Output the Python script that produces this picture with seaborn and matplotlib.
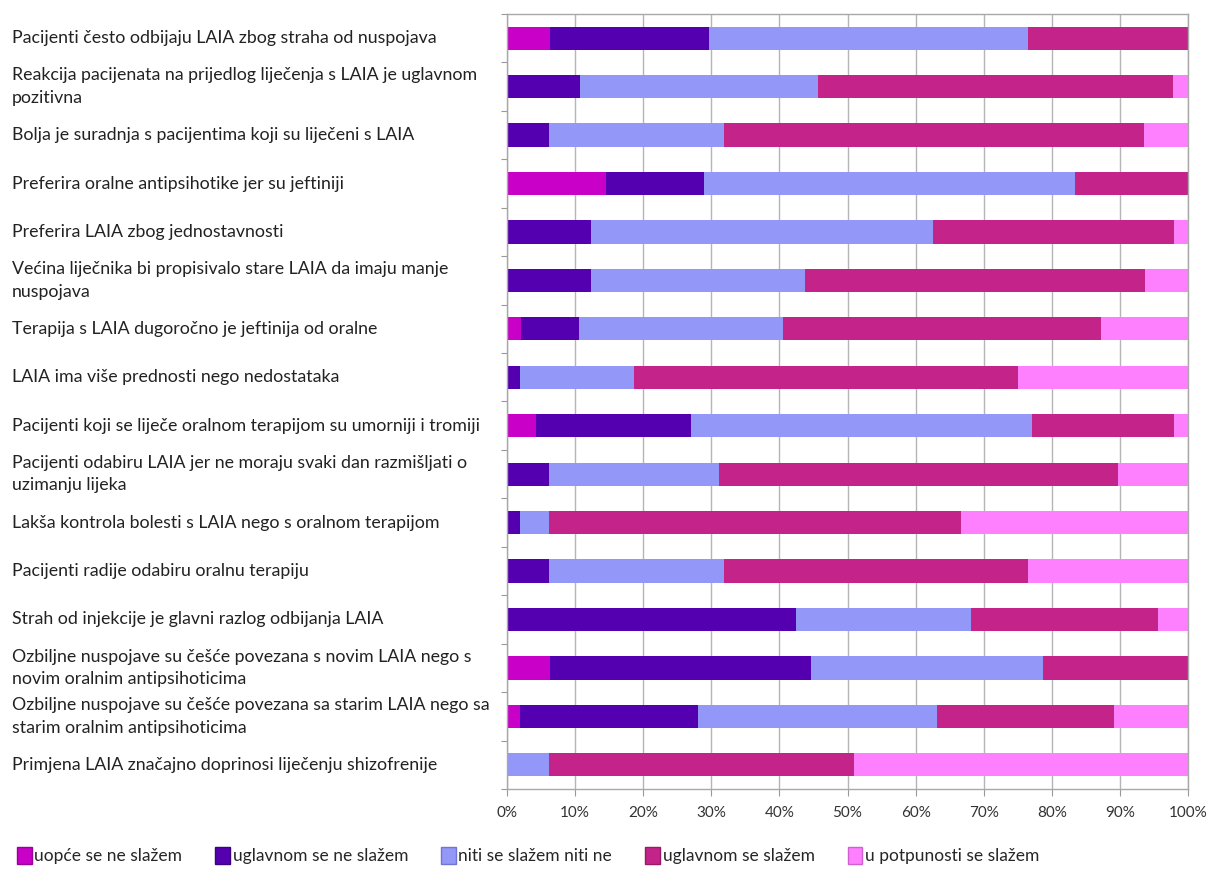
import numpy as np
import pandas as pd
import matplotlib
matplotlib.use("Agg")
import matplotlib.pyplot as plt
import matplotlib.transforms as mtransforms
from matplotlib.patches import Patch
import seaborn as sns

# --- data (percent of answers per statement) ---
statements = [
    "Pacijenti često odbijaju LAIA zbog straha od nuspojava",
    "Reakcija pacijenata na prijedlog liječenja s LAIA je uglavnom\npozitivna",
    "Bolja je suradnja s pacijentima koji su liječeni s LAIA",
    "Preferira oralne antipsihotike jer su jeftiniji",
    "Preferira LAIA zbog jednostavnosti",
    "Većina liječnika bi propisivalo stare LAIA da imaju manje\nnuspojava",
    "Terapija s LAIA dugoročno je jeftinija od oralne",
    "LAIA ima više prednosti nego nedostataka",
    "Pacijenti koji se liječe oralnom terapijom su umorniji i tromiji",
    "Pacijenti odabiru LAIA jer ne moraju svaki dan razmišljati o\nuzimanju lijeka",
    "Lakša kontrola bolesti s LAIA nego s oralnom terapijom",
    "Pacijenti radije odabiru oralnu terapiju",
    "Strah od injekcije je glavni razlog odbijanja LAIA",
    "Ozbiljne nuspojave su češće povezana s novim LAIA nego s\nnovim oralnim antipsihoticima",
    "Ozbiljne nuspojave su češće povezana sa starim LAIA nego sa\nstarim oralnim antipsihoticima",
    "Primjena LAIA značajno doprinosi liječenju shizofrenije",
]

levels = ["uopće se ne slažem", "uglavnom se ne slažem", "niti se slažem niti ne",
          "uglavnom se slažem", "u potpunosti se slažem"]

uopce_ne = [6.3, 0, 0, 14.6, 0, 0, 2.1, 0, 4.2, 0, 0, 0, 0, 6.3, 1.9, 0]
uglavnom_ne = [23.3, 10.7, 6.2, 14.4, 12.3, 12.3, 8.4, 1.9, 22.8, 6.1, 1.9, 6.2, 42.5, 38.3, 26.1, 0]
niti = [46.9, 35.0, 25.7, 54.4, 50.2, 31.5, 30.0, 16.8, 50.1, 25.1, 4.3, 25.7, 25.6, 34.1, 35.1, 6.2]
uglavnom_da = [23.5, 52.1, 61.7, 16.6, 35.5, 49.9, 46.7, 56.3, 20.9, 58.5, 60.4, 44.6, 27.5, 21.3, 26.1, 44.8]
potpuno_da = [0, 2.2, 6.4, 0, 2.0, 6.3, 12.8, 25.0, 2.0, 10.3, 33.4, 23.5, 4.4, 0, 10.8, 49.0]

colors = ["#c800c8", "#5500b0", "#9297f8", "#c4248a", "#ff80ff"]
edge_colors = ["#9a009a", "#3d0080", "#7075d0", "#951a68", "#d060d0"]

df = pd.DataFrame({"Tvrdnja": statements})
for name, vals in zip(levels, [uopce_ne, uglavnom_ne, niti, uglavnom_da, potpuno_da]):
    df[name] = vals
cum = df[levels].cumsum(axis=1)

# --- plotting ---
sns.set_style("white")
plt.rcParams["font.family"] = ["Lato", "DejaVu Sans"]

fig = plt.figure(figsize=(12.1, 8.71), dpi=100)
ax = fig.add_axes([507 / 1210, 1 - 789 / 871, (1188 - 507) / 1210, (789 - 14) / 871])

# draw cumulative bars from the longest to the shortest so they stack
for name, c in reversed(list(zip(levels, colors))):
    sns.barplot(x=cum[name], y=df["Tvrdnja"], color=c, orient="h",
                width=0.48, saturation=1, linewidth=0, ax=ax)

ax.set_xlim(0, 100)
ax.set_ylim(len(statements) - 0.5, -0.5)
ax.set_xticks(np.arange(0, 101, 10))
ax.set_xticklabels([f"{t}%" for t in range(0, 101, 10)], fontsize=11, color="#333333")
ax.set_yticks(np.arange(-0.5, len(statements), 1))
ax.set_yticklabels([])
ax.tick_params(axis="y", length=4, color="#999999", left=True)
ax.tick_params(axis="x", length=5, color="#999999", bottom=True, pad=7)
ax.set_xlabel("")
ax.set_ylabel("")
ax.grid(axis="x", color="#b5b5b5", linewidth=1)
ax.set_axisbelow(True)
for s in ax.spines.values():
    s.set_color("#a8a8a8")
    s.set_linewidth(1)

# statement labels, left aligned at the figure edge
trans = mtransforms.blended_transform_factory(fig.transFigure, ax.transData)
for i, label in enumerate(statements):
    ax.text(12 / 1210, i, label, transform=trans, ha="left", va="center",
            fontsize=12.8, color="#222222", linespacing=1.5)

handles = [Patch(facecolor=c, edgecolor=e, linewidth=1) for c, e in zip(colors, edge_colors)]
fig.legend(handles, levels, loc="lower left", bbox_to_anchor=(10 / 1210, 0.0),
           ncol=5, frameon=False, fontsize=12.5, handlelength=0.85, handleheight=1.15,
           handletextpad=0.15, columnspacing=1.9, borderaxespad=0)

fig.savefig("out.png", dpi=100)
